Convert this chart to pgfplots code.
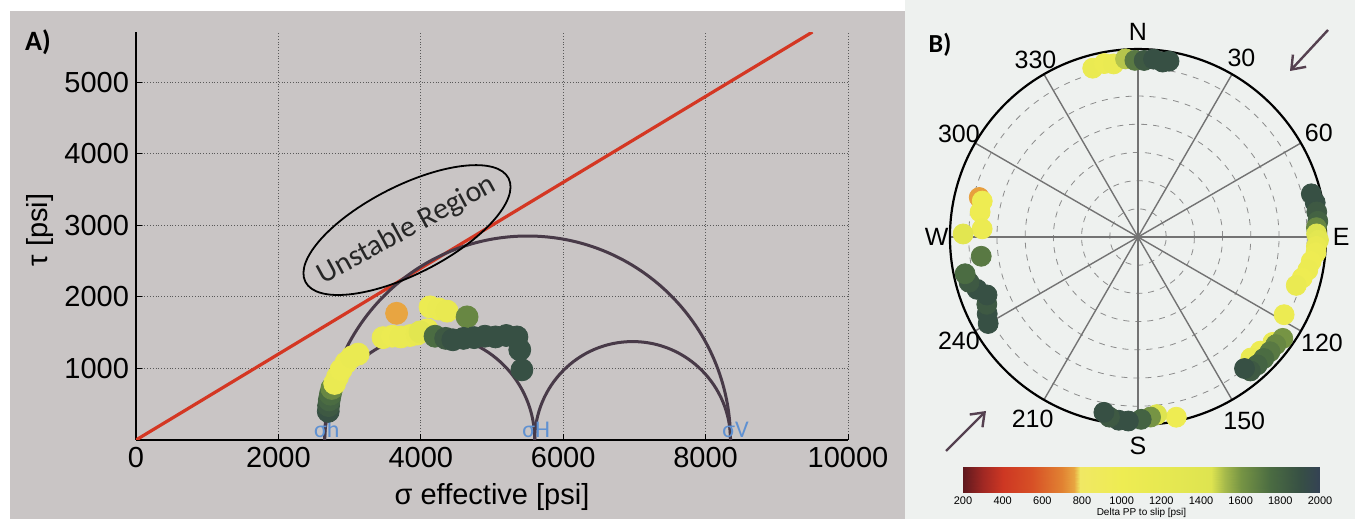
\documentclass[border=0pt]{standalone}
\usepackage{fontspec}
\setmainfont{Liberation Sans}
\newfontfamily\carlito{Carlito}
\usepackage{pgfplots}
\usepackage{pgfplotstable}
\pgfplotsset{compat=1.18}
\usetikzlibrary{shapes.geometric,arrows.meta}
\definecolor{bgA}{RGB}{201,197,197}
\definecolor{bgB}{RGB}{238,241,239}
\definecolor{mohr}{RGB}{72,58,72}
\definecolor{redline}{RGB}{212,55,35}
\definecolor{sigblue}{RGB}{95,145,210}
\definecolor{arrowc}{RGB}{85,65,80}
\pgfplotsset{colormap={delta}{
 rgb255(200pt)=(95,25,30) rgb255(300pt)=(160,40,35) rgb255(400pt)=(205,55,35)
 rgb255(550pt)=(215,80,38) rgb255(700pt)=(225,130,50) rgb255(760pt)=(232,165,65)
 rgb255(790pt)=(240,232,100) rgb255(1000pt)=(238,236,82) rgb255(1450pt)=(222,228,80)
 rgb255(1520pt)=(165,185,75) rgb255(1600pt)=(118,148,68) rgb255(1750pt)=(75,108,66)
 rgb255(1900pt)=(55,80,68) rgb255(2000pt)=(52,66,84)}}

\pgfplotstableread{
s t m
2700 400 1900
2705 480 1850
2715 560 1800
2730 640 1750
2750 720 1650
2790 790 1100
2830 880 1100
2880 980 1050
2950 1080 1050
3030 1160 1100
3120 1200 1100
3660 1770 760
3470 1430 1100
3600 1450 1050
3720 1440 1100
3850 1460 1100
3950 1480 1150
4090 1540 1100
3990 1510 1350
4130 1860 1050
4250 1830 1100
4370 1800 1150
4650 1720 1650
4200 1450 1750
4350 1420 1850
4450 1400 1900
4600 1420 1900
4750 1430 1900
4900 1450 1900
5050 1440 1900
5200 1460 1900
5350 1440 1900
5390 1260 1900
5420 980 1900
}\dataA

\pgfplotstableread{
az r m
345 0.93 1100
349 0.94 1050
352 0.93 1100
356 0.95 1500
359 0.94 1700
2 0.94 1850
5 0.95 1900
8 0.94 1900
10 0.95 1900
76 0.95 1900
79 0.96 1900
82 0.96 1850
85 0.96 1800
87 0.95 1650
89 0.95 1450
91 0.96 1300
93 0.95 1150
95 0.95 1050
98 0.93 1000
101 0.92 1050
104 0.90 1000
107 0.88 1100
118 0.88 1050
128 0.91 1100
133 0.89 1000
137 0.88 1100
125 0.94 1600
128 0.93 1650
131 0.93 1700
134 0.93 1750
137 0.93 1800
140 0.93 1850
141 0.90 1900
168 0.98 1000
174 0.95 1450
176 0.96 1600
179 0.97 1800
183 0.98 1900
186 0.98 1900
189 0.97 1850
191 0.95 1900
240 0.92 1900
243 0.90 1900
246 0.88 1850
249 0.86 1900
252 0.90 1900
255 0.93 1850
258 0.94 1750
263 0.84 1700
284 0.87 750
283 0.85 1000
279 0.85 1000
273 0.83 1050
271 0.93 1350
}\dataB

\begin{document}
\begin{tikzpicture}[x=1pt,y=1pt]
\useasboundingbox (0,0) rectangle (677.5,259.5);
\fill[white] (0,0) rectangle (677.5,259.5);
\fill[bgA] (5,0) rectangle (452.5,254);
\fill[bgB] (452.5,0) rectangle (677.5,259.5);

% ---------- Panel A ----------
\begin{axis}[
  at={(68pt,39.5pt)}, anchor=south west,
  scale only axis, width=356pt, height=204pt,
  xmin=0, xmax=10000, ymin=0, ymax=5700,
  xtick={0,2000,4000,6000,8000,10000},
  ytick={1000,2000,3000,4000,5000},
  axis x line*=bottom, axis y line*=left,
  axis line style={black, line width=0.9pt},
  grid=major,
  major grid style={densely dotted, black!65, line width=0.4pt},
  tick align=inside, major tick length=3pt,
  tick style={black, line width=0.5pt},
  scaled ticks=false,
  /pgf/number format/1000 sep={},
  /pgf/number format/assume math mode=true,
  tick label style={font=\fontsize{14.5}{16}\selectfont},
  xlabel={σ effective [psi]},
  ylabel={τ [psi]},
  label style={font=\fontsize{14.5}{16}\selectfont},
  xlabel style={at={(axis description cs:0.5,-0.14)}, anchor=center},
  ylabel style={at={(axis description cs:-0.135,0.515)}, anchor=center},
  point meta min=200, point meta max=2000,
  colormap name=delta,
]
\addplot[redline, line width=1.6pt] coordinates {(0,0) (9500,5700)};
\draw[mohr, line width=1.5pt] (axis cs:5500,0) ellipse [x radius=2850, y radius=2850];
\draw[mohr, line width=1.5pt] (axis cs:6975,0) ellipse [x radius=1375, y radius=1375];
\draw[mohr, line width=1.5pt] (axis cs:4125,0) ellipse [x radius=1475, y radius=1475];
\addplot[scatter, only marks, mark=*, mark size=5.5pt, point meta=explicit,
  scatter/use mapped color={draw=mapped color, fill=mapped color}]
  table[x=s, y=t, meta=m] {\dataA};
\node[draw=black, line width=0.9pt, ellipse, rotate=27, minimum width=114pt, minimum height=44pt,
  inner sep=0pt] at (axis cs:3806,2933) {};
\node[rotate=28.5, inner sep=0pt, font=\carlito\fontsize{15}{17}\selectfont, text=black!85]
  at (axis cs:3806,2933) {Unstable Region};
\node[sigblue, anchor=south, inner sep=1pt, font=\carlito\fontsize{12}{13}\selectfont] at (axis cs:2680,0) {σh};
\node[sigblue, anchor=south, inner sep=1pt, font=\carlito\fontsize{12}{13}\selectfont] at (axis cs:5620,0) {σH};
\node[sigblue, anchor=south, inner sep=1pt, font=\carlito\fontsize{12}{13}\selectfont] at (axis cs:8420,0) {σV};
\end{axis}
\node[font=\carlito\bfseries\fontsize{14}{16}\selectfont] at (19,238.5) {A)};

% ---------- Panel B ----------
\begin{axis}[
  at={(452.5pt,0pt)}, anchor=south west,
  scale only axis, width=225pt, height=259.5pt,
  xmin=-1.239, xmax=1.154, ymin=-1.5, ymax=1.261,
  hide axis, clip=false,
  point meta min=200, point meta max=2000,
  colormap name=delta,
]
\pgfplotsinvokeforeach{0.15,0.3,0.45,0.6,0.75,0.9}{
  \draw[black!45, dashed, line width=0.4pt] (axis cs:0,0) circle[radius=#1];
}
\pgfplotsinvokeforeach{0,30,60,90,120,150,180,210,240,270,300,330}{
  \draw[black!55, line width=0.7pt] (axis cs:0,0) -- (axis cs:{sin(#1)},{cos(#1)});
}
\draw[black, line width=1.1pt] (axis cs:0,0) circle[radius=1];
\addplot[scatter, only marks, mark=*, mark size=5pt, point meta=explicit,
  scatter/use mapped color={draw=mapped color, fill=mapped color}]
  table[x expr={\thisrow{r}*sin(\thisrow{az})}, y expr={\thisrow{r}*cos(\thisrow{az})}, meta=m] {\dataB};
\begin{scope}[font=\fontsize{12.5}{14}\selectfont]
\node at (axis cs:{1.09*sin(0)},{1.09*cos(0)}) {N};
\node at (axis cs:{1.10*sin(30)},{1.10*cos(30)}) {30};
\node at (axis cs:{1.11*sin(60)},{1.11*cos(60)}) {60};
\node at (axis cs:{1.08*sin(90)},{1.08*cos(90)}) {E};
\node at (axis cs:{1.13*sin(120)},{1.13*cos(120)}) {120};
\node at (axis cs:{1.13*sin(150)},{1.13*cos(150)}) {150};
\node at (axis cs:{1.11*sin(180)},{1.11*cos(180)}) {S};
\node at (axis cs:{1.12*sin(210)},{1.12*cos(210)}) {210};
\node at (axis cs:{1.10*sin(240)},{1.10*cos(240)}) {240};
\node at (axis cs:{1.07*sin(270)},{1.07*cos(270)}) {W};
\node at (axis cs:{1.10*sin(300)},{1.10*cos(300)}) {300};
\node at (axis cs:{1.09*sin(330)},{1.09*cos(330)}) {330};
\end{scope}
\end{axis}
\node[font=\carlito\bfseries\fontsize{13}{15}\selectfont] at (470,237) {B)};
\draw[arrowc, line width=1.2pt, -{Straight Barb[length=6pt,width=9pt]}] (664,244.5) -- (645,224);
\draw[arrowc, line width=1.2pt, -{Straight Barb[length=6pt,width=9pt]}] (473,34) -- (493,54);

% ---------- colour bar ----------
\begin{axis}[
  at={(481.5pt,13pt)}, anchor=south west,
  scale only axis, width=178.5pt, height=13pt,
  view={0}{90},
  xmin=200, xmax=2000, ymin=0, ymax=1,
  axis line style={draw=none},
  ytick=\empty, ztick=\empty,
  xtick={200,400,600,800,1000,1200,1400,1600,1800,2000},
  major tick length=0pt,
  /pgf/number format/1000 sep={},
  /pgf/number format/assume math mode=true,
  xticklabel style={font=\fontsize{5.5}{6}\selectfont, inner sep=1.5pt},
  xlabel={Delta PP to slip [psi]},
  xlabel style={font=\fontsize{5}{5.5}\selectfont, inner sep=0pt, at={(axis description cs:0.5,-0.75)}, anchor=center},
  point meta min=200, point meta max=2000,
  colormap name=delta,
]
\addplot3[surf, shader=interp, point meta=x, mesh/rows=2] coordinates {
(200,0,0) (300,0,0) (400,0,0) (550,0,0) (700,0,0) (760,0,0) (790,0,0) (1000,0,0) (1450,0,0) (1520,0,0) (1600,0,0) (1750,0,0) (1900,0,0) (2000,0,0)
(200,1,0) (300,1,0) (400,1,0) (550,1,0) (700,1,0) (760,1,0) (790,1,0) (1000,1,0) (1450,1,0) (1520,1,0) (1600,1,0) (1750,1,0) (1900,1,0) (2000,1,0)
};
\end{axis}
\end{tikzpicture}
\end{document}
